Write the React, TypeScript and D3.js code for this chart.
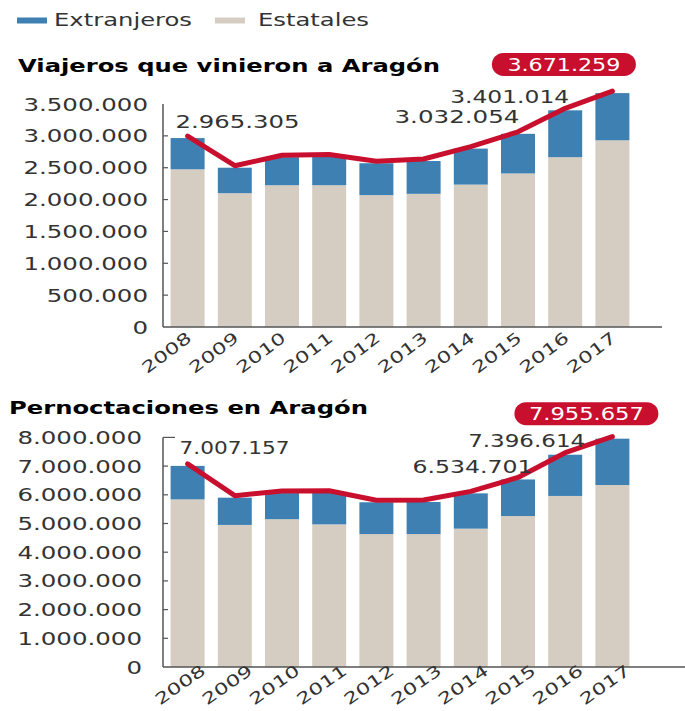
import React from "react";
import * as d3 from "d3";

const years = ["2008", "2009", "2010", "2011", "2012", "2013", "2014", "2015", "2016", "2017"];
const viajerosTotal = [2965305, 2500000, 2665000, 2675000, 2570000, 2605000, 2800000, 3032054, 3401014, 3671259];
const viajerosEstatales = [2475000, 2100000, 2225000, 2225000, 2070000, 2090000, 2235000, 2410000, 2665000, 2930000];
const pernoctTotal = [7007157, 5900000, 6060000, 6070000, 5740000, 5750000, 6050000, 6534701, 7396614, 7955657];
const pernoctEstatales = [5840000, 4950000, 5150000, 4970000, 4630000, 4630000, 4820000, 5260000, 5960000, 6340000];
const viajerosTicks = [0, 500000, 1000000, 1500000, 2000000, 2500000, 3000000, 3500000];
const pernoctTicks = [0, 1000000, 2000000, 3000000, 4000000, 5000000, 6000000, 7000000, 8000000];
const legendLabels = ["Extranjeros", "Estatales"];
const titles = ["Viajeros que vinieron a Aragón", "Pernoctaciones en Aragón"];
const labeledIdx = [0, 7, 8];

const BLUE = "#3f80b3";
const BEIGE = "#d6cdc2";
const RED = "#c8102e";
const TXT = "#333";
const AXIS = "#555";
const FONT = "DejaVu Sans, Verdana, sans-serif";
const SX = 1.4;

const locale = d3.formatLocale({ decimal: ",", thousands: ".", grouping: [3], currency: ["", "€"] });
const fmt = locale.format(",d");

function T({ x, y, anchor = "start", size = 17.5, fill = TXT, weight = "normal", rotate = 0, sx = SX, children }: any) {
  const tr = `translate(${x},${y})` + (rotate ? ` rotate(${rotate})` : "") + ` scale(${sx},1)`;
  return (
    <text transform={tr} textAnchor={anchor} fontSize={size} fill={fill} fontWeight={weight} fontFamily={FONT}>
      {children}
    </text>
  );
}

function L({ x, y, anchor = "start", len, fill = TXT, children }: any) {
  return (
    <text x={x} y={y} textAnchor={anchor} fontSize={17.5} fill={fill} fontFamily={FONT} textLength={len} lengthAdjust="spacingAndGlyphs">
      {children}
    </text>
  );
}

function Panel({ totals, estatales, ticks, yTop, yBase, xAxisEnd, tickLabelRight, title, titleX, titleY, titleLen, labelPos, pill, yearOff, yearRot, topTickLen }: any) {
  const x = d3.scaleBand<string>().domain(years).range([164, 636]).paddingInner(0.28).paddingOuter(0.14);
  const y = d3.scaleLinear().domain([0, ticks[ticks.length - 1]]).range([yBase, yTop]);
  const rows = years.map((yr, i) => ({ year: yr, estatales: estatales[i], extranjeros: totals[i] - estatales[i] }));
  const series = d3.stack<any>().keys(["estatales", "extranjeros"])(rows);
  const line = d3
    .line<number>()
    .x((_, i) => (x(years[i]) as number) + x.bandwidth() / 2)
    .y((d) => y(d))
    .curve(d3.curveLinear);
  const cx = (i: number) => (x(years[i]) as number) + x.bandwidth() / 2;
  const axisX = 163;
  return (
    <g>
      <text x={titleX} y={titleY} fontSize={17} fontWeight="bold" fontFamily={FONT} fill="#000" textLength={titleLen} lengthAdjust="spacingAndGlyphs">
        {title}
      </text>
      {series.map((s, si) =>
        s.map((d, i) => (
          <rect key={si + "-" + i} x={x(years[i])} width={x.bandwidth()} y={y(d[1])} height={y(d[0]) - y(d[1])} fill={si === 0 ? BEIGE : BLUE} />
        ))
      )}
      <line x1={axisX} x2={xAxisEnd} y1={yBase} y2={yBase} stroke={AXIS} strokeWidth={1.5} />
      <line x1={axisX} x2={axisX} y1={yTop} y2={yBase} stroke={AXIS} strokeWidth={1.5} />
      {ticks.map((t: number, i: number) => (
        <g key={t}>
          {t > 0 && <line x1={axisX} x2={axisX + (i === ticks.length - 1 ? topTickLen : 5)} y1={y(t)} y2={y(t)} stroke={AXIS} strokeWidth={1.2} />}
          <T x={tickLabelRight} y={y(t) + 6.5} anchor="end">
            {fmt(t)}
          </T>
        </g>
      ))}
      {years.map((yr, i) => (
        <T key={yr} x={cx(i) + yearOff[0]} y={yBase + yearOff[1]} anchor="end" size={16} rotate={yearRot}>
          {yr}
        </T>
      ))}
      <path d={line(totals) || ""} fill="none" stroke={RED} strokeWidth={5} strokeLinecap="round" strokeLinejoin="round" transform="translate(0,-2)" />
      {labeledIdx.map((idx, k) => (
        <L key={idx} x={cx(idx) + labelPos[k][0]} y={y(totals[idx]) + labelPos[k][1]} anchor={labelPos[k][2]} len={labelPos[k][3]}>
          {fmt(totals[idx])}
        </L>
      ))}
      <rect x={cx(9) + pill[0] - 72} y={y(totals[9]) + pill[1] - 11.5} width={144} height={23} rx={11.5} fill={RED} />
      <L x={cx(9) + pill[0]} y={y(totals[9]) + pill[1] + 6.5} anchor="middle" fill="#fff" len={pill[2]}>
        {fmt(totals[9])}
      </L>
    </g>
  );
}

export default function App() {
  return (
    <svg width={685} height={711} style={{ position: "absolute", left: 0, top: 0 }}>
      <rect width={685} height={711} fill="#fff" />
      <rect x={17} y={17.5} width={30} height={6} fill={BLUE} />
      <text x={54} y={26} fontSize={17.5} fontFamily={FONT} fill={TXT} textLength={138} lengthAdjust="spacingAndGlyphs">
        {legendLabels[0]}
      </text>
      <rect x={215} y={17.5} width={30} height={6} fill={BEIGE} />
      <text x={258} y={26} fontSize={17.5} fontFamily={FONT} fill={TXT} textLength={111} lengthAdjust="spacingAndGlyphs">
        {legendLabels[1]}
      </text>
      <Panel
        totals={viajerosTotal}
        estatales={viajerosEstatales}
        ticks={viajerosTicks}
        yTop={104}
        yBase={327}
        xAxisEnd={662}
        tickLabelRight={148}
        title={titles[0]}
        titleX={18}
        titleY={72}
        titleLen={422}
        labelPos={[
          [-12, -10, "start", 124],
          [1.5, -10.5, "end", 125],
          [4, -7.6, "end", 119],
        ]}
        pill={[-48.5, -28.6, 113]}
        yearOff={[5, 13]}
        yearRot={-37}
        topTickLen={0}
      />
      <Panel
        totals={pernoctTotal}
        estatales={pernoctEstatales}
        ticks={pernoctTicks}
        yTop={437.4}
        yBase={667}
        xAxisEnd={685}
        tickLabelRight={142}
        title={titles[1]}
        titleX={9}
        titleY={413.5}
        titleLen={359}
        labelPos={[
          [-8, -12, "start", 110],
          [14.5, -6.8, "end", 120],
          [20, -8, "end", 117],
        ]}
        pill={[-26, -25, 115]}
        yearOff={[19, 6]}
        yearRot={-35}
        topTickLen={12}
      />
    </svg>
  );
}
